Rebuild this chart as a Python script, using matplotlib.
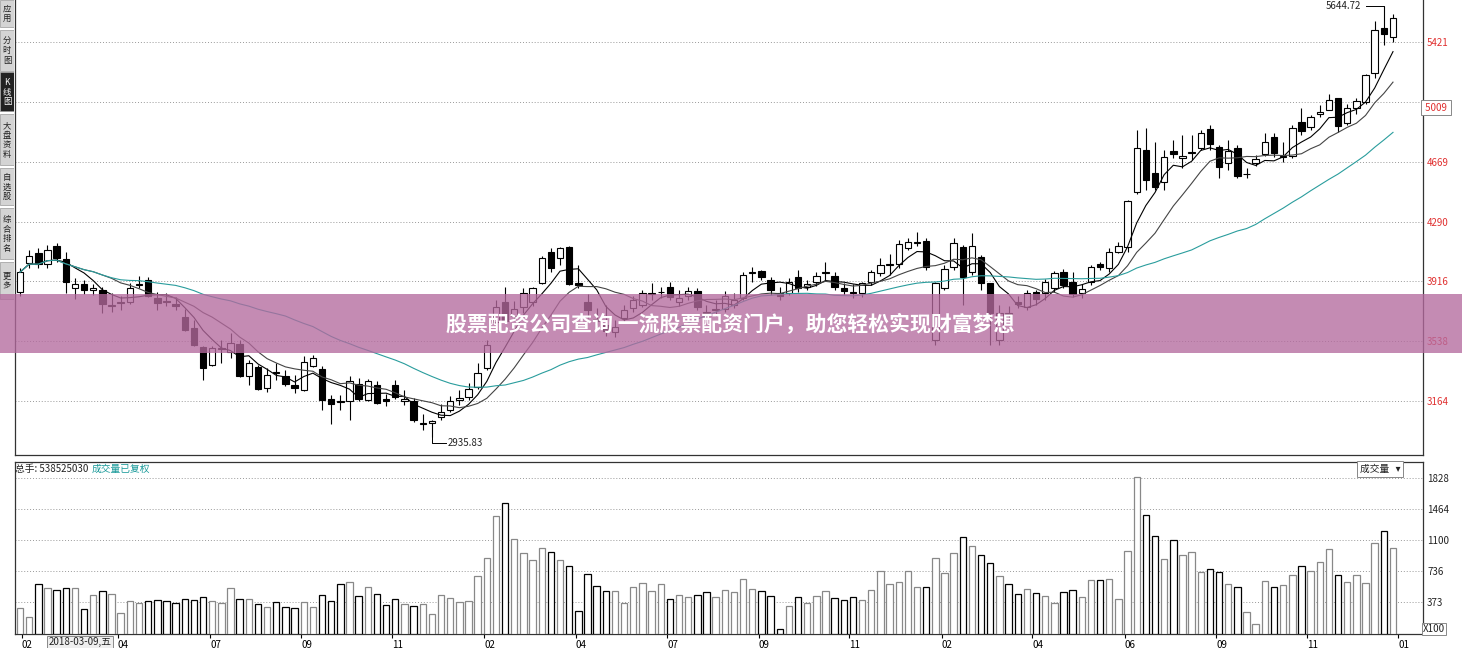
import matplotlib
matplotlib.use("Agg")
import matplotlib.pyplot as plt
import numpy as np
import pandas as pd
from matplotlib.patches import Rectangle

plt.rcParams['font.family'] = ['Noto Sans CJK SC', 'DejaVu Sans']

opens = [3848,4031,4094,4024,4137,4056,3873,3898,3861,3861,3760,3779,3785,3895,3924,3810,3792,3773,3691,3622,
 3502,3389,3490,3471,3521,3320,3377,3245,3345,3320,3264,3232,3383,3364,3175,3163,3163,3270,3169,3264,
 3175,3264,3163,3163,3018,3024,3062,3106,3169,3188,3251,3370,3660,3785,3697,3754,3785,3905,4100,4062,
 4131,3905,3785,3678,3641,3597,3685,3748,3767,3836,3848,3880,3785,3823,3855,3722,3735,3741,3767,3810,
 3970,3980,3924,3842,3842,3943,3880,3911,3970,3949,3873,3848,3842,3911,3968,4020,4024,4125,4160,4169,
 3546,3873,4005,4131,3974,4068,3905,3546,3716,3785,3754,3848,3842,3873,3974,3911,3842,3911,4024,3999,
 4100,4131,4477,4741,4597,4540,4735,4691,4725,4754,4874,4760,4660,4754,4588,4660,4716,4823,4698,4704,
 4918,4886,4968,4993,5069,4911,5006,5044,5226,5509,5452]
closes = [3974,4075,4024,4112,4062,3911,3898,3861,3873,3773,3765,3785,3873,3900,3823,3779,3785,3760,3609,3515,
 3370,3496,3496,3528,3320,3402,3238,3326,3339,3270,3245,3408,3433,3169,3144,3156,3289,3175,3289,3150,
 3163,3188,3175,3043,3024,3037,3094,3163,3182,3238,3339,3515,3754,3666,3741,3842,3873,4062,3999,4125,
 3898,3892,3735,3666,3603,3628,3735,3798,3842,3842,3852,3817,3810,3855,3754,3716,3741,3823,3798,3955,
 3974,3943,3861,3823,3911,3873,3898,3949,3974,3880,3855,3842,3905,3974,4018,4024,4150,4163,4163,4005,
 3905,3993,4156,3943,4137,3905,3716,3716,3710,3773,3842,3804,3911,3968,3892,3836,3867,4005,4005,4100,
 4137,4421,4754,4553,4509,4698,4716,4704,4729,4849,4779,4635,4735,4578,4591,4685,4792,4723,4704,4880,
 4861,4949,4981,5056,4893,5006,5050,5213,5496,5471,5572]
highs = [3999,4112,4125,4144,4156,4100,3936,3924,3898,3880,3842,3823,3905,3949,3943,3848,3842,3817,3741,3672,
 3509,3509,3546,3590,3546,3421,3389,3370,3402,3358,3326,3446,3452,3383,3200,3200,3320,3308,3301,3289,
 3207,3295,3232,3182,3081,3043,3144,3194,3232,3276,3402,3546,3798,3880,3792,3873,3880,4075,4125,4131,
 4137,4018,3836,3748,3767,3672,3767,3823,3861,3905,3880,3911,3861,3880,3873,3767,3798,3855,3842,3974,
 4005,3987,3943,3880,3936,3987,3924,3974,4037,3974,3905,3898,3911,3987,4062,4087,4175,4188,4226,4188,
 3911,4018,4188,4144,4219,4081,3905,3767,3760,3823,3861,3861,3930,3980,3993,3974,3898,4018,4037,4125,
 4163,4427,4867,4880,4792,4741,4804,4836,4836,4867,4899,4773,4804,4773,4628,4710,4849,4849,4792,4899,
 5006,4962,5025,5094,5069,5031,5069,5220,5553,5644.72,5597]
lows = [3823,3999,3999,3999,4037,3842,3804,3836,3829,3716,3722,3735,3773,3873,3817,3735,3760,3735,3603,3509,
 3295,3383,3402,3433,3314,3264,3232,3220,3295,3257,3213,3226,3377,3106,3018,3106,3043,3163,3163,3144,
 3131,3175,3137,3030,2980,2935.83,3043,3094,3137,3169,3238,3358,3641,3660,3672,3716,3760,3898,3974,4018,
 3892,3873,3685,3641,3571,3565,3660,3722,3754,3798,3810,3798,3760,3798,3735,3685,3697,3722,3748,3798,
 3911,3924,3829,3798,3829,3848,3861,3886,3924,3861,3829,3810,3817,3892,3949,3955,3999,4112,4137,3987,
 3515,3861,3987,3767,3955,3861,3515,3515,3672,3748,3735,3767,3798,3848,3873,3817,3810,3892,3987,3974,
 4094,4100,4465,4490,4490,4490,4691,4628,4679,4741,4741,4566,4616,4566,4566,4641,4704,4698,4666,4691,
 4836,4867,4949,4993,4855,4899,4968,5031,5195,5402,5421]
volumes = [301,203,582,543,518,535,543,289,453,500,465,250,391,363,391,402,391,363,414,398,
 430,391,363,535,406,406,348,320,379,320,301,379,320,453,391,590,606,442,551,465,
 336,406,348,328,348,234,453,418,379,391,
 680,887,1383,1531,1117,945,867,1004,957,867,793,265,699,558,500,508,363,551,594,500,
 582,406,453,437,453,488,430,512,488,640,523,500,441,62,328,437,367,441,500,418,
 398,437,398,512,742,582,605,742,551,547,887,711,945,1133,1035,922,828,676,582,465,
 523,476,441,363,488,512,430,629,629,640,406,973,1836,1391,1148,875,1098,922,957,723,
 766,723,582,547,254,113,617,547,570,687,793,734,840,992,687,605,687,594,1062,1203,1004]

price_ticks = [5421, 4669, 4290, 3916, 3538, 3164]
price_grid = [5421, 5046, 4669, 4290, 3916, 3538, 3164]
vol_ticks = [1828, 1464, 1100, 736, 373]
month_labels = ["02", "04", "07", "09", "11", "02", "04", "07", "09", "11", "02", "04", "06", "09", "11", "01"]
month_pos = [0.2, 10.7, 20.8, 30.7, 40.6, 50.7, 60.7, 70.7, 80.7, 90.6, 100.7, 110.6, 120.7, 130.7, 140.6, 150.6]

W, H = 1462, 648
fig = plt.figure(figsize=(W/100, H/100), dpi=100)
fig.patch.set_facecolor('white')
L, R = 15/W, 1423/W
ax = fig.add_axes([L, 1-455/H, R-L, 455/H])
axv = fig.add_axes([L, 1-634/H, R-L, (634-478)/H*1.0 + 0.0])
# volume axes: top at y=478 maps to 1828; extend a bit
vtop = 462
axv.set_position([L, 1-634/H, R-L, (634-vtop)/H])

n = len(closes)
x = np.arange(n)
xl = (-5/9.153, 150 + 30/9.153)
ax.set_xlim(*xl); axv.set_xlim(*xl)
ax.set_ylim(5685-6.287*455, 5685)
vmax = 1828 * (634-vtop)/(634-478)
axv.set_ylim(0, vmax)

for a in (ax, axv):
    for s in a.spines.values():
        s.set_color('#333333'); s.set_linewidth(0.9)
    a.tick_params(axis='both', length=0)

ax.spines['top'].set_visible(False)
for g in price_grid:
    ax.axhline(g, color='#999999', lw=0.7, ls=(0, (1, 2)))
for g in vol_ticks:
    axv.axhline(g, color='#999999', lw=0.7, ls=(0, (1, 2)))

bw = 0.7
for i in range(n):
    o, c, h, l = opens[i], closes[i], highs[i], lows[i]
    up = c >= o
    ax.vlines(x[i], l, min(o, c), color='black', lw=0.8, zorder=3)
    ax.vlines(x[i], max(o, c), h, color='black', lw=0.8, zorder=3)
    bot = min(o, c); ht = max(abs(c-o), 1.5)
    ax.add_patch(Rectangle((x[i]-bw/2, bot), bw, ht, facecolor='white' if up else 'black',
                           edgecolor='black', lw=0.8, zorder=4))
    axv.add_patch(Rectangle((x[i]-bw/2, 0), bw, volumes[i], facecolor='white',
                            edgecolor='#888888' if up else 'black', lw=0.9, zorder=3))

cs = pd.Series(closes)
ax.plot(x, cs.rolling(5, min_periods=1).mean(), color='black', lw=0.8, zorder=5)
ax.plot(x, cs.rolling(10, min_periods=1).mean(), color='#444444', lw=0.8, zorder=5)
ax.plot(x, cs.rolling(30, min_periods=1).mean(), color='#2a9d9d', lw=0.8, zorder=5)

ax.yaxis.tick_right(); axv.yaxis.tick_right()
ax.set_yticks(price_ticks)
ax.set_yticklabels([str(t) for t in price_ticks], color='#e03030', fontsize=7)
ax.set_xticks([])
axv.set_yticks(vol_ticks)
axv.set_yticklabels([str(t) for t in vol_ticks], color='#222222', fontsize=7)
axv.set_xticks(month_pos)
axv.set_xticklabels(month_labels, fontsize=7, ha='left')
axv.tick_params(axis='x', length=3, pad=1)
ax.tick_params(axis='y', pad=3)
axv.tick_params(axis='y', pad=3)

# boxed 5009 label
ax.text(1.0, 5009, " 5009 ", transform=ax.get_yaxis_transform(), color='#e03030', fontsize=7,
        va='center', ha='left', bbox=dict(facecolor='white', edgecolor='#888888', lw=0.7, pad=1.5),
        clip_on=False)

# max / min annotations
ax.annotate("5644.72", xy=(149, 5644.72), xytext=(146.5, 5644.72), fontsize=7, va='center', ha='right',
            color='#222222')
ax.plot([147, 149, 149], [5644.72, 5644.72, 5560], color='black', lw=0.7)
ax.plot([45, 45, 46.5], [2990, 2900, 2900], color='black', lw=0.7)
ax.text(46.7, 2900, "2935.83", fontsize=7, va='center', ha='left', color='#222222')

# volume header
fig.text(15/W, 1-469/H, "总手: 538525030", fontsize=7, va='center', ha='left', color='#222222')
fig.text(92/W, 1-469/H, "成交量已复权", fontsize=7, va='center', ha='left', color='#1a9a9a')
fig.text(1380/W, 1-469/H, "成交量   ▾", fontsize=7, va='center', ha='center', color='#222222',
         bbox=dict(facecolor='white', edgecolor='#888888', lw=0.7, pad=2))
fig.text(1434/W, 1-629/H, "X100", fontsize=7, va='center', ha='center', color='#222222',
         bbox=dict(facecolor='white', edgecolor='#888888', lw=0.7, pad=1))
fig.text(80/W, 1-642/H, "2018-03-09,五", fontsize=7, va='center', ha='center', color='#222222',
         bbox=dict(facecolor='#eeeeee', edgecolor='#888888', lw=0.7, pad=1))

# left sidebar
sb = fig.add_axes([0, 1-300/H, 14/W, 300/H])
sb.set_xlim(0, 1); sb.set_ylim(300, 0); sb.axis('off')
tabs = [("应\n用", 0, 28, False), ("分\n时\n图", 30, 72, False), ("K\n线\n图", 72, 112, True),
        ("大\n盘\n资\n料", 114, 166, False), ("自\n选\n股", 168, 206, False),
        ("综\n合\n排\n名", 208, 260, False), ("更\n多", 262, 300, False)]
for t, y0, y1, act in tabs:
    sb.add_patch(Rectangle((0, y0), 1, y1-y0-1, facecolor='#222222' if act else '#d4d4d4',
                           edgecolor='#999999', lw=0.5))
    sb.text(0.5, (y0+y1)/2, t, color='white' if act else '#222222', fontsize=6, ha='center',
            va='center', linespacing=1.05)

# watermark band
fig.patches.append(Rectangle((0, 1-353/H), 1, 59/H, transform=fig.transFigure,
                             facecolor='#b46a9e', alpha=0.78, zorder=10))
fig.text(730/W, 1-325/H, "股票配资公司查询 一流股票配资门户，助您轻松实现财富梦想", fontsize=15,
         fontweight='bold', color='white', ha='center', va='center', zorder=11)

fig.savefig("out.png", dpi=100)
